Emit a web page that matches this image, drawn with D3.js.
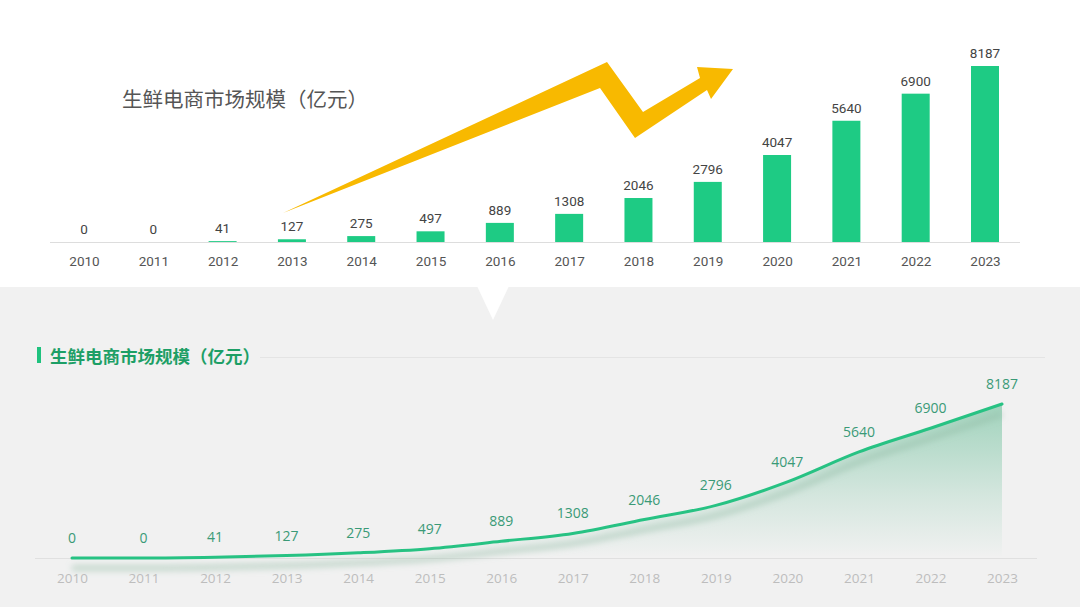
<!DOCTYPE html>
<html><head><meta charset="utf-8">
<script src="https://cdn.jsdelivr.net/npm/d3@7"></script>
<style>body{margin:0;background:#fff;} svg{display:block}</style>
</head><body><svg id="c" width="1080" height="607"></svg>
<script>
const years = ["2010","2011","2012","2013","2014","2015","2016","2017","2018","2019","2020","2021","2022","2023"];
const values = [0,0,41,127,275,497,889,1308,2046,2796,4047,5640,6900,8187];
const titleText = "生鲜电商市场规模（亿元）";

const svg = d3.select("#c");
const W = 1080, H = 607;
const numFont = "Roboto, 'Noto Sans', sans-serif";
const cjkFont = "'Noto Sans CJK SC', 'Noto Sans', sans-serif";

// ---------- defs ----------
const defs = svg.append("defs");
const ag = defs.append("linearGradient").attr("id","areaGrad").attr("x1",0).attr("y1",0).attr("x2",0).attr("y2",1);
ag.append("stop").attr("offset","0%").attr("stop-color","#3fae7c").attr("stop-opacity",0.45);
ag.append("stop").attr("offset","60%").attr("stop-color","#3fae7c").attr("stop-opacity",0.16);
ag.append("stop").attr("offset","100%").attr("stop-color","#3fae7c").attr("stop-opacity",0.0);
const blur = defs.append("filter").attr("id","blur").attr("x","-10%").attr("y","-50%").attr("width","120%").attr("height","200%");
blur.append("feGaussianBlur").attr("stdDeviation",3);

// ---------- backgrounds ----------
svg.append("rect").attr("x",0).attr("y",0).attr("width",W).attr("height",287).attr("fill","#ffffff");
svg.append("rect").attr("x",0).attr("y",287).attr("width",W).attr("height",H-287).attr("fill","#f1f1f1");
svg.append("polygon").attr("points","477,286 509,286 493,320").attr("fill","#ffffff");

// ---------- TOP: bar chart ----------
const xT = d3.scalePoint().domain(years).range([84,985]);
const yT = d3.scaleLinear().domain([0,8187]).range([242,66]);
const barW = 28;

svg.append("text").attr("x",122).attr("y",107).attr("font-family",cjkFont).attr("font-size",20.5)
  .attr("fill","#555").text(titleText);

// yellow arrow (decoration)
svg.append("path")
  .attr("d","M283,213 L607,62 L643,112 L700,78 L697,67 L733,69 L711,99 L707,90 L635,138 L600,88 Z")
  .attr("fill","#f8b900");

svg.append("line").attr("x1",50).attr("x2",1020).attr("y1",242.5).attr("y2",242.5)
  .attr("stroke","#dddddd").attr("stroke-width",1);

svg.append("g").selectAll("rect").data(values).join("rect")
  .attr("x",(d,i)=>xT(years[i])-barW/2)
  .attr("y",d=>yT(d))
  .attr("width",barW)
  .attr("height",d=>yT(0)-yT(d))
  .attr("fill","#1ecb84");

svg.append("g").selectAll("text").data(values).join("text")
  .attr("x",(d,i)=>xT(years[i]))
  .attr("y",d=>yT(d)-8)
  .attr("text-anchor","middle").attr("font-family",numFont).attr("font-size",13.5).attr("fill","#444")
  .text(d=>d);

const axT = svg.append("g").attr("transform","translate(0,242)")
  .call(d3.axisBottom(xT).tickSize(0).tickPadding(14));
axT.select(".domain").remove();
axT.selectAll("text").attr("font-family",numFont).attr("font-size",13.5).attr("fill","#555");

// ---------- BOTTOM: line chart ----------
svg.append("rect").attr("x",37).attr("y",347).attr("width",4).attr("height",16).attr("fill","#1fc27e");
svg.append("text").attr("x",50).attr("y",363).attr("font-family",cjkFont).attr("font-size",17.5)
  .attr("font-weight",700).attr("fill","#1d9f66").text(titleText);
svg.append("line").attr("x1",260).attr("x2",1045).attr("y1",357.5).attr("y2",357.5)
  .attr("stroke","#e4e4e4").attr("stroke-width",1);

const xB = d3.scalePoint().domain(years).range([72,1002]);
const yB = d3.scaleLinear().domain([0,8187]).range([558,404]);
const pts = values.map((v,i)=>[xB(years[i]),yB(v)]);

svg.append("line").attr("x1",35).attr("x2",1037).attr("y1",558.5).attr("y2",558.5)
  .attr("stroke","#e0e0e0").attr("stroke-width",1);

const area = d3.area().x(d=>d[0]).y0(556).y1(d=>d[1]).curve(d3.curveMonotoneX);
svg.append("path").attr("d",area(pts)).attr("fill","url(#areaGrad)");

const line = d3.line().x(d=>d[0]).y(d=>d[1]).curve(d3.curveMonotoneX);
svg.append("path").attr("d",line(pts)).attr("transform","translate(0,10)")
  .attr("fill","none").attr("stroke","#8fb8a2").attr("stroke-opacity",0.45).attr("stroke-width",6)
  .attr("filter","url(#blur)");
svg.append("path").attr("d",line(pts)).attr("fill","none").attr("stroke","#27c283").attr("stroke-width",3)
  .attr("stroke-linecap","round");

svg.append("g").selectAll("text").data(values).join("text")
  .attr("x",(d,i)=>xB(years[i]))
  .attr("y",d=>yB(d)-15)
  .attr("text-anchor","middle").attr("font-family","'Open Sans', 'Noto Sans', sans-serif").attr("font-size",14)
  .attr("fill","#3a9a77").text(d=>d);

const axB = svg.append("g").attr("transform","translate(0,558)")
  .call(d3.axisBottom(xB).tickSize(0).tickPadding(15));
axB.select(".domain").remove();
axB.selectAll("text").attr("font-family","'Open Sans', 'Noto Sans', sans-serif").attr("font-size",13.5).attr("fill","#bdbdbd");
</script>
</body></html>
